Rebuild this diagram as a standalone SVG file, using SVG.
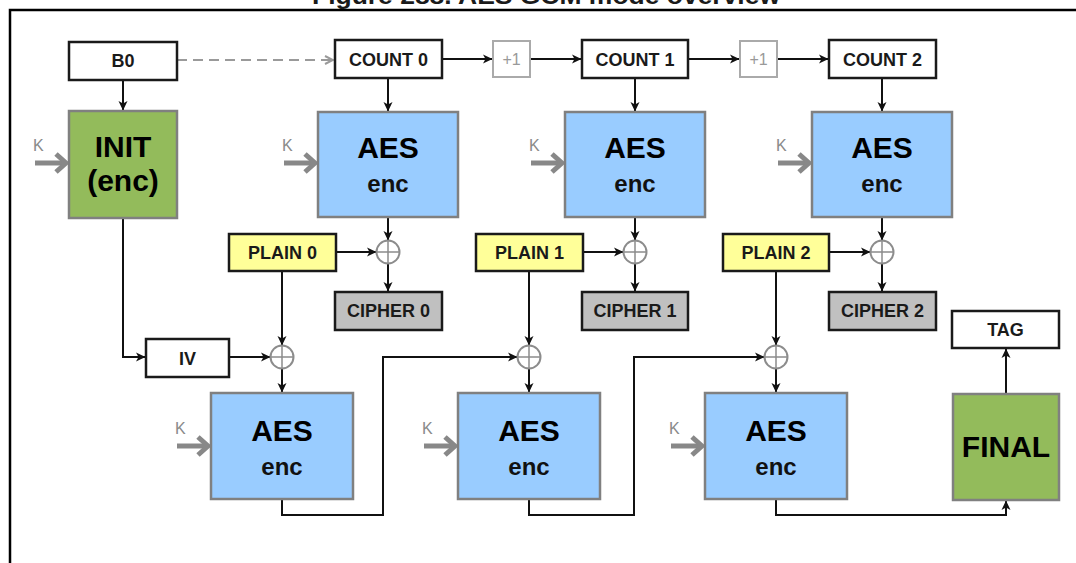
<svg xmlns="http://www.w3.org/2000/svg" xmlns:xlink="http://www.w3.org/1999/xlink" width="1076" height="563" viewBox="0 0 1076 563">
<style>
text{font-family:"Liberation Sans",Arial,sans-serif;font-weight:bold;text-anchor:middle;fill:#1a1a1a}
.lbl{font-size:18px}
.big{font-size:30px;fill:#000}
.sub{font-size:24px;fill:#111}
.k{font-size:16px;font-weight:normal;fill:#8a8a8a;text-anchor:start}
.plus{font-size:16px;font-weight:normal;fill:#999}
.wbox{fill:#fff;stroke:#1a1a1a;stroke-width:2.5}
.ybox{fill:#ffff99;stroke:#1a1a1a;stroke-width:2.5}
.cbox{fill:#c0c0c0;stroke:#1a1a1a;stroke-width:2.5}
.inc{fill:#fff;stroke:#aaa;stroke-width:2}
.aes{fill:#99ccff;stroke:#808080;stroke-width:2.5}
.grn{fill:#93bb5b;stroke:#808080;stroke-width:2.5}
.xor{fill:#fff;stroke:#8c8c8c;stroke-width:2}
.conn{fill:none;stroke:#111;stroke-width:2;marker-end:url(#ah)}
.dash{fill:none;stroke:#9a9a9a;stroke-width:2;stroke-dasharray:10 6;marker-end:url(#ahg)}
.kline{fill:none;stroke:#888;stroke-width:5}
</style>
<defs>
<marker id="ah" markerUnits="userSpaceOnUse" markerWidth="10" markerHeight="10" refX="9" refY="5" orient="auto">
<path d="M0,0.5 L9.5,5 L0,9.5 L2.5,5 z" fill="#111"/>
</marker>
<marker id="ahg" markerUnits="userSpaceOnUse" markerWidth="10" markerHeight="10" refX="9" refY="5" orient="auto">
<path d="M1,1 L9,5 L1,9" fill="none" stroke="#9a9a9a" stroke-width="2"/>
</marker>
<g id="karrow">
<path class="kline" d="M-34,0 H-3"/>
<path class="kline" d="M-13,-9 L-3,0 L-13,9" stroke-linejoin="miter"/>
<text class="k" x="-36" y="-12">K</text>
</g>
<g id="xorsym">
<circle class="xor" r="11.5"/>
<path d="M-11.5,0 H11.5 M0,-11.5 V11.5" stroke="#8c8c8c" stroke-width="1.5"/>
</g>
</defs>

<g id="frame">
<path d="M10,570 V10 H1090" fill="none" stroke="#000" stroke-width="2.5"/>
<text x="546" y="4" style="font-size:24px" textLength="468" lengthAdjust="spacingAndGlyphs">Figure 288. AES GCM mode overview</text>
</g>

<g id="connectors">
<path class="dash" d="M177,60 H333"/>
<path class="conn" d="M442,59 H492"/>
<path class="conn" d="M530,59 H581"/>
<path class="conn" d="M688,59 H739"/>
<path class="conn" d="M777,59 H828"/>
<path class="conn" d="M123,80 V110"/>
<path class="conn" d="M388,78 V111"/>
<path class="conn" d="M635,78 V111"/>
<path class="conn" d="M882,78 V111"/>
<path class="conn" d="M388,217 V240"/>
<path class="conn" d="M635,217 V240"/>
<path class="conn" d="M882,217 V240"/>
<path class="conn" d="M336,252 H376"/>
<path class="conn" d="M583,252 H623"/>
<path class="conn" d="M829,252 H870"/>
<path class="conn" d="M388,264 V291"/>
<path class="conn" d="M635,264 V291"/>
<path class="conn" d="M882,264 V291"/>
<path class="conn" d="M282,271 V345"/>
<path class="conn" d="M529,271 V345"/>
<path class="conn" d="M776,271 V345"/>
<path class="conn" d="M123,218 V357 H145"/>
<path class="conn" d="M229,357 H270"/>
<path class="conn" d="M282,369 V392"/>
<path class="conn" d="M529,369 V392"/>
<path class="conn" d="M776,369 V392"/>
<path class="conn" d="M282,499 V515 H383 V357 H517"/>
<path class="conn" d="M529,499 V515 H634 V357 H764"/>
<path class="conn" d="M776,499 V515 H1006 V501"/>
<path class="conn" d="M1006,394 V349"/>
</g>

<g id="kinputs">
<use xlink:href="#karrow" x="69" y="163"/>
<use xlink:href="#karrow" x="318" y="163"/>
<use xlink:href="#karrow" x="565" y="163"/>
<use xlink:href="#karrow" x="812" y="163"/>
<use xlink:href="#karrow" x="211" y="446"/>
<use xlink:href="#karrow" x="458" y="446"/>
<use xlink:href="#karrow" x="705" y="446"/>
</g>

<g id="b0"><rect class="wbox" x="69" y="42" width="108" height="38"/><text class="lbl" x="123" y="67">B0</text></g>
<g id="count0"><rect class="wbox" x="335" y="40" width="107" height="38"/><text class="lbl" x="388.5" y="66">COUNT 0</text></g>
<g id="inc0"><rect class="inc" x="493" y="41" width="37" height="36"/><text class="plus" x="511.5" y="65">+1</text></g>
<g id="count1"><rect class="wbox" x="582" y="40" width="106" height="38"/><text class="lbl" x="635" y="66">COUNT 1</text></g>
<g id="inc1"><rect class="inc" x="740" y="41" width="37" height="36"/><text class="plus" x="758.5" y="65">+1</text></g>
<g id="count2"><rect class="wbox" x="829" y="40" width="107" height="38"/><text class="lbl" x="882.5" y="66">COUNT 2</text></g>

<g id="init"><rect class="grn" x="69" y="111" width="108" height="107"/><text class="big" x="123" y="157">INIT</text><text class="big" x="123" y="191">(enc)</text></g>
<g id="aes0"><rect class="aes" x="318" y="112" width="140" height="105"/><text class="big" x="388" y="158">AES</text><text class="sub" x="388" y="192">enc</text></g>
<g id="aes1"><rect class="aes" x="565" y="112" width="140" height="105"/><text class="big" x="635" y="158">AES</text><text class="sub" x="635" y="192">enc</text></g>
<g id="aes2"><rect class="aes" x="812" y="112" width="140" height="105"/><text class="big" x="882" y="158">AES</text><text class="sub" x="882" y="192">enc</text></g>

<g id="plain0"><rect class="ybox" x="229" y="234" width="107" height="37"/><text class="lbl" x="282.5" y="259">PLAIN 0</text></g>
<g id="plain1"><rect class="ybox" x="476" y="234" width="107" height="37"/><text class="lbl" x="529.5" y="259">PLAIN 1</text></g>
<g id="plain2"><rect class="ybox" x="723" y="234" width="106" height="37"/><text class="lbl" x="776" y="259">PLAIN 2</text></g>

<g id="xor0"><use xlink:href="#xorsym" x="388" y="252"/></g>
<g id="xor1"><use xlink:href="#xorsym" x="635" y="252"/></g>
<g id="xor2"><use xlink:href="#xorsym" x="882" y="252"/></g>

<g id="cipher0"><rect class="cbox" x="335" y="292" width="107" height="38"/><text class="lbl" x="388.5" y="317">CIPHER 0</text></g>
<g id="cipher1"><rect class="cbox" x="582" y="292" width="106" height="38"/><text class="lbl" x="635" y="317">CIPHER 1</text></g>
<g id="cipher2"><rect class="cbox" x="829" y="292" width="107" height="38"/><text class="lbl" x="882.5" y="317">CIPHER 2</text></g>

<g id="iv"><rect class="wbox" x="146" y="339" width="83" height="38"/><text class="lbl" x="187.5" y="365">IV</text></g>
<g id="xorb0"><use xlink:href="#xorsym" x="282" y="357"/></g>
<g id="xorb1"><use xlink:href="#xorsym" x="529" y="357"/></g>
<g id="xorb2"><use xlink:href="#xorsym" x="776" y="357"/></g>

<g id="aesb0"><rect class="aes" x="211" y="393" width="142" height="106"/><text class="big" x="282" y="441">AES</text><text class="sub" x="282" y="475">enc</text></g>
<g id="aesb1"><rect class="aes" x="458" y="393" width="142" height="106"/><text class="big" x="529" y="441">AES</text><text class="sub" x="529" y="475">enc</text></g>
<g id="aesb2"><rect class="aes" x="705" y="393" width="142" height="106"/><text class="big" x="776" y="441">AES</text><text class="sub" x="776" y="475">enc</text></g>

<g id="tag"><rect class="wbox" x="952" y="311" width="107" height="37"/><text class="lbl" x="1005.5" y="336">TAG</text></g>
<g id="final"><rect class="grn" x="953" y="394" width="106" height="106"/><text class="big" x="1006" y="457">FINAL</text></g>
</svg>
